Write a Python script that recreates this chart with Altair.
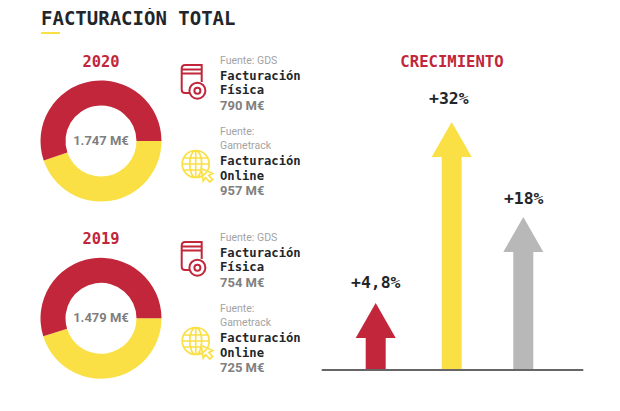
import math
import altair as alt
import pandas as pd

W, H = 604, 385
OFF = 8
RED, YELLOW, GRAY = "#C1263A", "#FAE044", "#B8B8B8"
DARK, MID, LIGHT = "#22262B", "#808080", "#A3A3A3"
MONO, SANS = "DejaVu Sans Mono", "Roboto"

# ---- values
years = ["2020", "2019"]
ring_series = ["Online", "Fisica"]
ring_shares = {"2020": [44.8, 55.2], "2019": [45.2, 54.8]}
totals = ["1.747 M€", "1.479 M€"]
fuentes = ["Fuente: GDS", "Fuente:", "Gametrack"]
line_names = [["Facturación", "Física"], ["Facturación", "Online"]]
amounts = {"2020": ["790 M€", "957 M€"], "2019": ["754 M€", "725 M€"]}
growth_labels = ["+4,8%", "+32%", "+18%"]
arrow_tip = [67, 248, 153]
arrow_shaft = [33, 213, 119]
label_height = [87, 271, 171]
arrow_colors = [RED, YELLOW, GRAY]

# ---- layout (page pixels)
ring_cx, ring_cy = [101, 101], [141, 318.3]
arrow_cx = [375.7, 451.7, 523.3]
label_cx = [375.7, 448.8, 523.7]
base_px = 370
YEAR_OFFSET = [0, 177]

BOOK = ("M20,17V0H3.5Q0,0 0,3.5V24.5Q0,28 3.5,28H7.5M0,4.5H20M0,8.5H20"
        "M23.7,25.7A8,8 0 1 1 7.7,25.7A8,8 0 1 1 23.7,25.7"
        "M18.7,25.7A3,3 0 1 1 12.7,25.7A3,3 0 1 1 18.7,25.7")
GLOBE = ("M27.5,14A13.5,13.5 0 1 1 0.5,14A13.5,13.5 0 1 1 27.5,14"
         "M20,14A6,13.5 0 1 1 8,14A6,13.5 0 1 1 20,14"
         "M14,0.5V27.5M0.5,14H27.5M2,8H26M2,20H20"
         "M19.5,18.5L31,23.5L27,25.5L31,29.5L28,32L24,27.5L21.5,31Z")


def t(rows, size, color, font=SANS, weight="normal", align="left"):
    df = pd.DataFrame(rows, columns=["px", "py", "label"])
    df["px"] -= OFF
    df["py"] -= OFF
    return alt.Chart(df).mark_text(
        font=font, fontSize=size, color=color, fontWeight=weight,
        align=align, baseline="middle"
    ).encode(
        x=alt.X("px:Q", scale=None), y=alt.Y("py:Q", scale=None), text="label:N"
    )


layers = []

# rings
for i, year in enumerate(years):
    df = pd.DataFrame({
        "series": ring_series,
        "share": ring_shares[year],
        "idx": [0, 1],
    })
    layers.append(
        alt.Chart(df).mark_arc(outerRadius=60.5, innerRadius=35.5).encode(
            x=alt.value(ring_cx[i] - OFF),
            y=alt.value(ring_cy[i] - OFF),
            theta=alt.Theta("share:Q", stack=True, scale=alt.Scale(
                domain=[0, 100], range=[math.pi / 2, math.pi / 2 + 2 * math.pi])),
            order=alt.Order("idx:Q"),
            color=alt.Color("series:N", legend=None, scale=alt.Scale(
                domain=ring_series, range=[YELLOW, RED])),
        )
    )

# underline below the title
layers.append(
    alt.Chart(pd.DataFrame({"a": [41 - OFF], "b": [60 - OFF], "y": [33 - OFF]}))
    .mark_rule(color=YELLOW, strokeWidth=2)
    .encode(x=alt.X("a:Q", scale=None), x2="b:Q", y=alt.Y("y:Q", scale=None))
)

# icons
icon_rows = []
for off in YEAR_OFFSET:
    icon_rows.append((181.7, 65 + off, BOOK, RED, 2))
    icon_rows.append((181.7, 150 + off, GLOBE, YELLOW, 1.7))
for x0, y0, path, col, sw in icon_rows:
    layers.append(
        alt.Chart(pd.DataFrame({"px": [x0 - OFF], "py": [y0 - OFF]}))
        .mark_point(shape=path, size=4, filled=False, color=col, opacity=1, strokeWidth=sw)
        .encode(x=alt.X("px:Q", scale=None), y=alt.Y("py:Q", scale=None))
    )

# arrows
adf = pd.DataFrame({
    "px": [c - OFF for c in arrow_cx],
    "lx": [c - OFF for c in label_cx],
    "tip": arrow_tip,
    "shaft": arrow_shaft,
    "base": [0, 0, 0],
    "lab": label_height,
    "label": growth_labels,
    "color": arrow_colors,
})
base_y = base_px - OFF
yscale = alt.Scale(domain=[0, base_y], range=[base_y, 0])
HEAD = "M0,0L-20,35L20,35Z"
arrow_base = alt.Chart(adf)
layers.append(arrow_base.mark_rule(strokeWidth=20).encode(
    x=alt.X("px:Q", scale=None),
    y=alt.Y("shaft:Q", scale=yscale), y2="base:Q",
    color=alt.Color("color:N", scale=None)))
layers.append(arrow_base.mark_point(shape=HEAD, size=4, filled=True, opacity=1, strokeWidth=0).encode(
    x=alt.X("px:Q", scale=None),
    y=alt.Y("tip:Q", scale=yscale),
    color=alt.Color("color:N", scale=None)))
layers.append(arrow_base.mark_text(font=MONO, fontSize=16.4, fontWeight="bold", color=DARK,
                                   baseline="middle", align="center").encode(
    x=alt.X("lx:Q", scale=None),
    y=alt.Y("lab:Q", scale=yscale),
    text="label:N"))
layers.append(
    alt.Chart(pd.DataFrame({"a": [321.7 - OFF], "b": [583.3 - OFF], "y": [0]}))
    .mark_rule(color="#666666", strokeWidth=1.8)
    .encode(x=alt.X("a:Q", scale=None), x2="b:Q", y=alt.Y("y:Q", scale=yscale))
)

# texts
layers.append(t([(41, 19, "FACTURACIÓN TOTAL")], 19, DARK, MONO, "bold"))
layers.append(t([(452, 62, "CRECIMIENTO")], 15.6, RED, MONO, "bold", "center"))
for i, year in enumerate(years):
    off = YEAR_OFFSET[i]
    layers.append(t([(101, 62 + off, year)], 15.4, RED, MONO, "bold", "center"))
    layers.append(t([(ring_cx[i], ring_cy[i], totals[i])], 13, MID, SANS, "bold", "center"))
    layers.append(t([(220, 61 + off, fuentes[0]), (220, 131.5 + off, fuentes[1]),
                     (220, 146 + off, fuentes[2])], 10.5, LIGHT))
    layers.append(t([(220, 75.5 + off, line_names[0][0]), (220, 90 + off, line_names[0][1]),
                     (220, 161 + off, line_names[1][0]), (220, 175.5 + off, line_names[1][1])],
                    12.2, DARK, MONO, "bold"))
    layers.append(t([(220, 105.5 + off, amounts[year][0]), (220, 191 + off, amounts[year][1])],
                    13, MID, SANS, "bold"))

chart = alt.layer(*layers).resolve_scale(color="independent").properties(
    width=W, height=H, padding=0, autosize=alt.AutoSizeParams(type="none")
).configure_view(stroke=None).configure_axis(disable=True)

chart.save("out.html", embed_options={"renderer": "svg", "actions": False})
